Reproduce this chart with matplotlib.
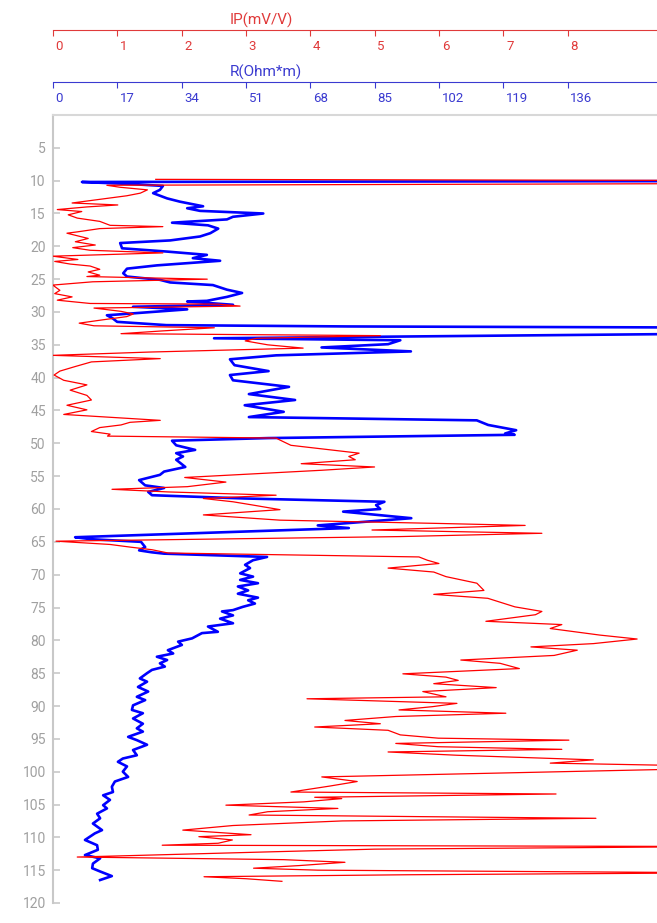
import matplotlib
matplotlib.use("Agg")
import matplotlib.pyplot as plt
from matplotlib.transforms import ScaledTranslation

plt.rcParams['font.family'] = ['Roboto', 'DejaVu Sans']

# IP curve (mV/V) vs depth (m)
ip_depth = [9.8, 10.0, 10.4, 10.7, 11.0, 11.4, 11.9, 12.3, 12.7, 13.4, 13.7, 14.0, 14.4, 14.7,
            15.2, 15.7, 16.2, 16.8, 17.0, 17.3, 17.8, 18.0, 18.8, 19.3, 19.8, 20.2, 20.6, 21.0,
            21.5, 22.0, 22.3, 22.7, 23.0, 23.5, 23.9, 24.4, 24.6, 25.0, 25.4, 25.9, 26.7, 27.2,
            27.7, 28.2, 28.7, 28.8, 29.1, 29.4, 29.9, 30.3, 30.7, 31.2, 31.7, 32.1, 32.4, 32.9,
            33.3, 33.6, 34.0, 34.4, 35.0, 35.5, 36.1, 36.6, 37.1, 37.6, 38.3, 39.0, 39.6, 40.4,
            41.1, 41.9, 42.7, 43.4, 44.2, 44.9, 45.6, 46.5, 46.8, 47.2, 47.6, 48.2, 48.6, 48.9,
            49.2, 49.5, 50.3, 51.0, 51.5, 52.0, 52.5, 53.1, 53.6, 54.1, 54.6, 55.2, 55.9, 56.6,
            57.0, 57.4, 57.9, 58.4, 58.9, 59.4, 60.1, 60.9, 61.7, 62.2, 62.5, 63.2, 63.7, 64.2,
            64.9, 65.4, 65.8, 66.2, 66.7, 67.3, 67.8, 68.3, 69.0, 69.6, 70.3, 71.3, 72.4, 73.0,
            73.6, 74.9, 75.6, 76.1, 77.1, 77.6, 78.2, 79.2, 79.8, 80.5, 81.0, 81.5, 82.3, 83.0,
            83.5, 84.3, 85.1, 85.6, 86.1, 86.6, 87.2, 87.8, 88.6, 88.9, 89.6, 90.1, 90.6, 91.1,
            91.6, 92.2, 92.7, 93.2, 93.7, 94.4, 94.9, 95.2, 95.7, 96.2, 96.6, 97.0, 97.5, 98.2,
            98.7, 99.2, 99.6, 100.8, 101.5, 102.2, 103.1, 103.4, 103.9, 104.1, 104.6, 105.1, 105.6,
            106.1, 106.6, 107.1, 107.5, 108.2, 108.9, 109.6, 109.9, 110.4, 110.9, 111.2, 111.4,
            111.8, 112.2, 113.0, 113.4, 113.8, 114.3, 114.7, 115.0, 115.4, 115.7, 116.0, 116.3, 116.7]
ip_value = [1.60, 12.0, 12.0, 0.84, 1.04, 1.47, 1.36, 1.15, 0.84, 0.30, 1.01, 0.53, 0.07, 0.45,
            0.24, 0.38, 0.73, 0.89, 1.71, 0.73, 0.38, 0.22, 0.55, 0.35, 0.66, 0.31, 0.58, 1.71,
            0.00, 0.39, 0.03, 0.27, 0.58, 0.73, 0.55, 0.73, 0.53, 2.40, 0.62, 0.00, 0.11, 0.03,
            0.30, 0.07, 0.58, 2.57, 2.91, 0.64, 1.06, 1.25, 1.15, 0.77, 0.41, 0.64, 2.51, 1.67,
            1.06, 5.09, 3.17, 2.99, 3.34, 3.89, 1.50, 0.00, 1.67, 0.60, 0.35, 0.11, 0.02, 0.17,
            0.53, 0.27, 0.53, 0.60, 0.22, 0.53, 0.17, 1.67, 1.20, 1.06, 0.73, 0.60, 0.89, 0.85,
            3.47, 3.53, 3.70, 4.31, 4.76, 4.60, 4.70, 3.86, 5.00, 4.18, 3.22, 2.05, 2.69, 2.09,
            0.92, 1.79, 3.47, 2.34, 2.80, 3.11, 3.53, 2.34, 3.53, 6.00, 7.34, 4.96, 7.60, 5.40,
            0.05, 0.89, 1.20, 1.54, 1.79, 5.69, 5.82, 6.00, 5.21, 5.92, 6.11, 6.59, 6.70, 5.92,
            6.76, 7.18, 7.60, 7.50, 6.73, 7.91, 7.73, 8.50, 9.08, 8.40, 7.43, 8.15, 7.79, 6.34,
            6.95, 7.25, 5.44, 6.11, 6.30, 5.92, 6.89, 5.75, 6.11, 3.95, 6.28, 5.90, 5.38, 7.04,
            5.33, 4.54, 5.09, 4.07, 5.21, 5.40, 5.99, 8.02, 5.33, 5.99, 7.91, 5.21, 6.28, 8.40,
            7.73, 10.5, 9.80, 4.18, 4.73, 4.30, 3.70, 7.82, 4.07, 4.49, 3.90, 2.69, 4.43,
            3.34, 3.05, 8.44, 4.50, 2.80, 2.02, 3.08, 2.27, 2.79, 2.57, 1.70, 10.5,
            5.00, 3.41, 0.38, 3.59, 4.54, 3.83, 3.12, 4.12, 10.5, 5.50, 2.35, 3.00, 3.56]

# resistivity curve (Ohm*m) vs depth (m)
r_depth = [10.0, 10.2, 10.5, 10.8, 11.4, 11.9, 12.7, 13.2, 13.9, 14.2, 14.6, 15.0, 15.5, 15.9,
           16.4, 16.8, 17.3, 18.0, 18.5, 19.1, 19.5, 20.3, 20.8, 21.3, 21.8, 22.2, 22.9, 23.4,
           24.1, 24.6, 25.1, 25.5, 25.9, 26.6, 27.1, 27.7, 28.3, 28.4, 28.9, 29.2, 29.6, 30.5,
           31.0, 31.5, 32.0, 32.2, 32.5, 32.9, 34.0, 34.3, 34.9, 35.4, 36.0, 36.6, 37.2, 38.1,
           39.0, 39.6, 40.4, 41.4, 42.5, 43.4, 44.2, 45.2, 46.0, 46.5, 47.2, 48.0, 48.5, 48.7,
           49.2, 49.6, 50.3, 51.0, 51.5, 52.0, 52.5, 53.6, 54.3, 54.8, 55.6, 56.4, 56.8, 57.4,
           57.9, 58.4, 58.9, 59.4, 60.0, 60.4, 61.4, 62.0, 62.5, 62.9, 64.3, 64.6, 65.0, 65.8,
           66.3, 66.6, 66.8, 67.3, 67.8, 68.5, 69.0, 69.8, 70.3, 70.8, 71.3, 71.8, 72.4, 72.9,
           73.5, 73.9, 74.4, 74.9, 75.4, 75.6, 76.2, 76.7, 77.4, 77.9, 78.7, 78.9, 79.7, 80.2,
           80.7, 81.5, 82.0, 82.5, 83.0, 83.5, 84.0, 84.5, 85.0, 85.8, 86.3, 87.1, 87.8, 88.6,
           89.1, 89.9, 90.6, 91.1, 91.9, 92.7, 93.4, 93.9, 94.7, 95.2, 95.9, 96.7, 97.5, 98.0,
           98.5, 99.2, 100.0, 100.8, 101.5, 102.3, 103.1, 103.6, 104.3, 105.1, 105.6, 106.4,
           107.1, 107.9, 108.9, 109.4, 110.4, 111.2, 111.9, 112.7, 113.2, 114.0, 114.7, 115.2,
           115.9, 116.5]
r_value = [250, 7.7, 20.0, 29.1, 28.3, 26.5, 30.2, 33.6, 39.7, 35.5, 38.9, 55.6, 47.6, 46.0,
           31.5, 41.0, 43.7, 41.6, 38.9, 31.0, 17.8, 18.3, 30.2, 40.7, 37.0, 44.2, 27.5, 19.6,
           18.6, 19.6, 28.3, 31.0, 42.3, 46.0, 50.0, 46.0, 40.7, 35.5, 47.6, 21.2, 35.5, 14.3,
           15.9, 17.0, 30.0, 78.0, 250, 250, 42.6, 91.8, 88.6, 71.0, 94.6, 59.0, 46.8, 48.0,
           57.0, 46.8, 47.6, 62.4, 51.8, 64.0, 50.7, 61.0, 51.8, 112.0, 115.0, 122.4, 119.5, 122.0,
           56.9, 31.5, 32.6, 37.6, 32.6, 34.4, 32.6, 35.0, 29.4, 28.3, 22.8, 24.4, 29.4, 25.2,
           26.2, 50.8, 87.6, 85.4, 86.5, 76.7, 94.7, 81.4, 70.0, 78.2, 5.9, 10.1, 23.3, 24.4,
           22.8, 26.2, 29.4, 56.6, 52.9, 50.8, 52.1, 49.5, 52.9, 49.5, 54.2, 48.9, 51.6, 48.9,
           54.2, 51.6, 53.4, 50.2, 47.6, 44.7, 47.6, 44.2, 47.6, 41.0, 43.6, 39.4, 36.8, 33.1,
           34.1, 30.4, 31.8, 27.5, 30.2, 28.3, 29.6, 26.2, 24.9, 23.0, 24.9, 22.5, 25.2, 22.2,
           24.4, 21.2, 20.9, 23.8, 21.2, 23.8, 22.2, 23.8, 19.9, 22.2, 24.9, 21.2, 22.2, 18.5,
           17.2, 19.6, 18.5, 19.9, 16.4, 15.6, 15.9, 13.3, 15.1, 13.3, 14.3, 11.7,
           12.5, 10.6, 13.0, 11.1, 8.5, 11.7, 11.9, 8.5, 12.5, 10.6, 10.4, 12.5,
           15.6, 12.5]

ip_ticks = [0, 1, 2, 3, 4, 5, 6, 7, 8]
r_ticks = [0, 17, 34, 51, 68, 85, 102, 119, 136]
depth_ticks = list(range(5, 121, 5))

W, H = 657, 923
IP_MAX = 9.389
R_MAX = IP_MAX * 17
x0 = 52.8 / W
wid = 1 - x0

fig = plt.figure(figsize=(W / 100, H / 100), dpi=100)
grey = '#c8c8c8'
red_txt = '#e03a3a'
blue_txt = '#3a3ad0'

# main log track
ax = fig.add_axes([x0, (H - 903) / H, wid, (903 - 115) / H])
ax.set_ylim(120, 0)
ax.set_xlim(0, R_MAX)
for s in ['right', 'bottom']:
    ax.spines[s].set_visible(False)
ax.spines['left'].set_color(grey)
ax.spines['left'].set_linewidth(1.5)
ax.spines['top'].set_color('#d8d8d8')
ax.spines['top'].set_linewidth(1.5)
ax.set_xticks([])
ax.set_yticks(depth_ticks)
ax.tick_params(axis='y', direction='in', length=5, width=1.2, color=grey,
               labelcolor='#a0a0a0', labelsize=10, pad=5)
ax.plot(r_value, r_depth, color='#0000ff', lw=1.9)

ax2 = ax.twiny()
ax2.set_xlim(0, IP_MAX)
ax2.set_ylim(120, 0)
ax2.set_xticks([])
for s in ax2.spines.values():
    s.set_visible(False)
ax2.plot(ip_value, ip_depth, color='#ff0000', lw=0.9)


def scale_axis(ypix, vmax, ticks, color, title):
    sa = fig.add_axes([x0, 1 - ypix / H, wid, 0.0001])
    sa.set_xlim(0, vmax)
    sa.set_yticks([])
    for s in ['top', 'left', 'right']:
        sa.spines[s].set_visible(False)
    sa.spines['bottom'].set_color(color)
    sa.spines['bottom'].set_linewidth(0.8)
    sa.set_xticks(ticks, [str(t) for t in ticks])
    sa.tick_params(axis='x', direction='out', length=4, width=0.8, color=color,
                   labelcolor=color, labelsize=9.5, pad=3)
    off = ScaledTranslation(2 / 72, 0, fig.dpi_scale_trans)
    for lbl in sa.get_xticklabels():
        lbl.set_horizontalalignment('left')
        lbl.set_transform(lbl.get_transform() + off)
    fig.text(230 / W, 1 - (ypix - 2) / H, title, color=color, fontsize=11,
             ha='left', va='bottom')
    return sa


scale_axis(30, IP_MAX, ip_ticks, red_txt, 'IP(mV/V)')
scale_axis(82, R_MAX, r_ticks, blue_txt, 'R(Ohm*m)')

fig.savefig('out.png', dpi=100)
